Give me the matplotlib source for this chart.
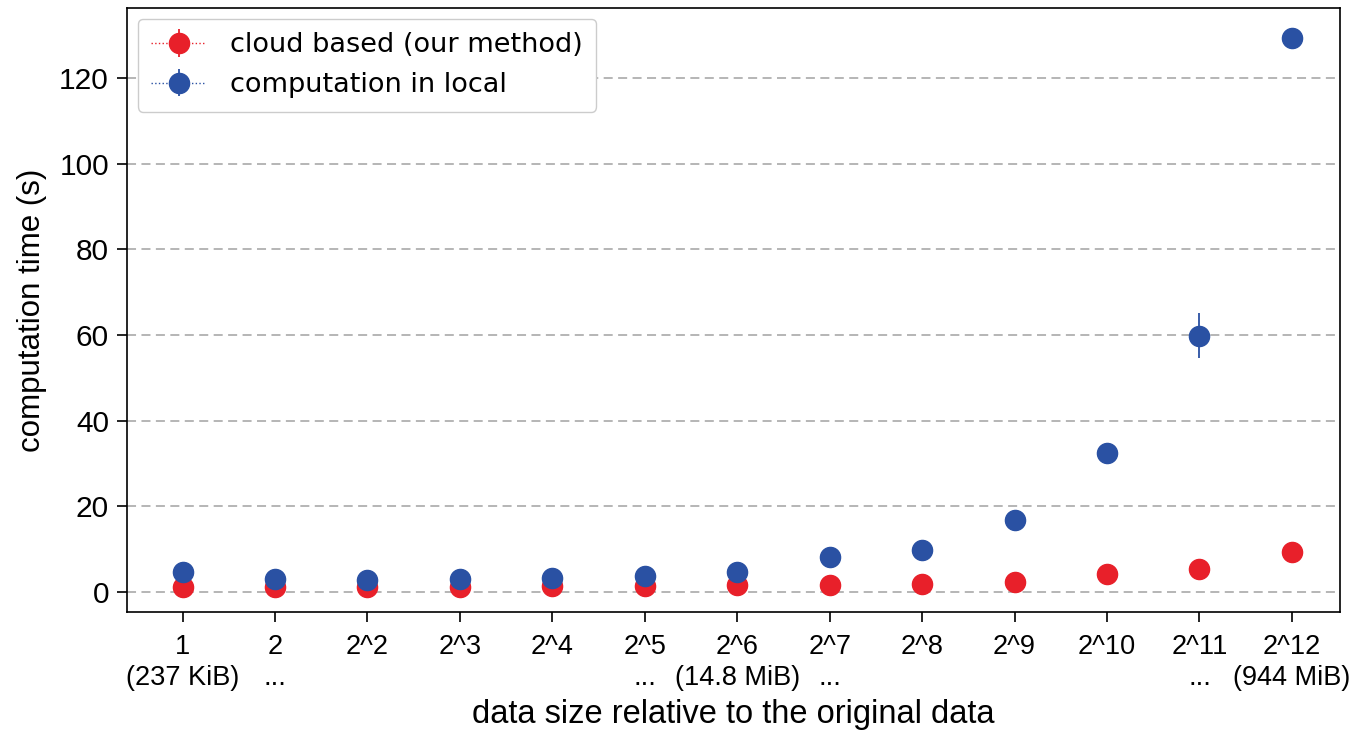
import numpy as np
import matplotlib
matplotlib.use("Agg")
import matplotlib.pyplot as plt
from matplotlib.lines import Line2D
from matplotlib.collections import LineCollection
from matplotlib.container import ErrorbarContainer

tick_labels = ["1\n(237 KiB)", "2\n...", "2^2\n", "2^3\n", "2^4\n", "2^5\n...",
               "2^6\n(14.8 MiB)", "2^7\n...", "2^8\n", "2^9\n", "2^10\n", "2^11\n...",
               "2^12\n(944 MiB)"]
cloud = [1.2, 1.2, 1.2, 1.2, 1.3, 1.3, 1.5, 1.6, 1.9, 2.4, 4.1, 5.4, 9.4]
cloud_err = [0.1, 0.1, 0.1, 0.1, 0.1, 0.1, 0.1, 0.1, 0.1, 0.2, 0.3, 0.3, 0.5]
local = [4.6, 3.0, 2.8, 2.9, 3.2, 3.7, 4.6, 8.1, 9.8, 16.8, 32.4, 59.8, 129.3]
local_err = [0.2, 0.1, 0.1, 0.1, 0.1, 0.1, 0.2, 0.3, 0.3, 0.5, 1.2, 5.2, 0.6]

red = "#e8202a"
blue = "#2a51a3"

fig = plt.figure(figsize=(13.69, 7.33), dpi=100)
ax = fig.add_axes([0.0928, 0.165, 0.886, 0.824])

x = np.arange(len(tick_labels))
ax.errorbar(x, cloud, yerr=cloud_err, fmt='o', ls='none', color=red, ms=14.5,
            elinewidth=1.3, zorder=3)
ax.errorbar(x, local, yerr=local_err, fmt='o', ls='none', color=blue, ms=14.5,
            elinewidth=1.3, zorder=3)

def proxy(c):
    ln = Line2D([], [], ls=':', lw=1.0, marker='o', ms=14.5, color=c)
    lc = LineCollection([], colors=c, linewidths=1.3)
    return ErrorbarContainer((ln, (), (lc,)), has_xerr=False, has_yerr=True)

leg = ax.legend([proxy(red), proxy(blue)],
                ["cloud based (our method)", "computation in local"],
                loc="upper left", fontsize=19.5, framealpha=1, edgecolor="#cccccc",
                handlelength=2.0, borderaxespad=0.4, labelspacing=0.5,
                borderpad=0.5, handletextpad=0.9)
for t in leg.get_texts():
    t.set_family("DejaVu Sans")

ax.set_xlim(-0.6, 12.52)
ax.set_ylim(-4.7, 136.3)
ax.set_yticks([0, 20, 40, 60, 80, 100, 120])
ax.set_xticks(x)
ax.set_xticklabels(tick_labels, fontsize=19.5, family="Liberation Sans", linespacing=1.22)
ax.tick_params(axis='y', labelsize=21.5, pad=6)
ax.tick_params(axis='x', pad=9)
for t in ax.get_yticklabels():
    t.set_family("Liberation Sans")
ax.tick_params(length=7, width=1.2)
ax.grid(axis='y', ls='--', color='#b0b0b0', lw=1.3, dashes=(5, 3))
ax.set_axisbelow(True)
ax.set_xlabel("data size relative to the original data", fontsize=23.5,
              family="Liberation Sans", labelpad=6)
ax.set_ylabel("computation time (s)", fontsize=22.5, family="Liberation Sans",
              labelpad=9)
for s in ax.spines.values():
    s.set_linewidth(1.2)

fig.savefig("out.png", dpi=100)
